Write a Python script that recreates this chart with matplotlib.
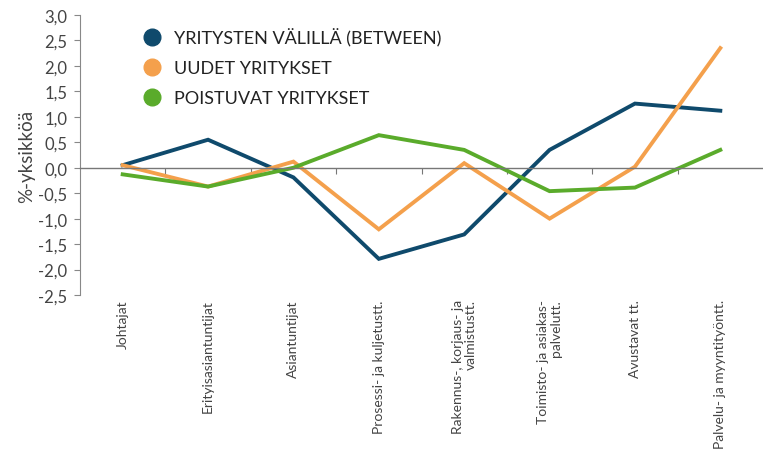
import matplotlib
matplotlib.use("Agg")
import matplotlib.pyplot as plt
import matplotlib.transforms as mtransforms
from matplotlib.lines import Line2D
import numpy as np

categories = ["Johtajat", "Erityisasiantuntijat", "Asiantuntijat",
              "Prosessi- ja kuljetustt.", "Rakennus-, korjaus- ja\nvalmistustt.",
              "Toimisto- ja asiakas-\npalvelutt.", "Avustavat tt.", "Palvelu- ja myyntityöntt."]
between = [0.05, 0.55, -0.19, -1.79, -1.31, 0.35, 1.26, 1.12]
uudet = [0.05, -0.37, 0.12, -1.21, 0.09, -1.00, 0.02, 2.35]
poistuvat = [-0.13, -0.37, 0.00, 0.64, 0.35, -0.46, -0.39, 0.35]
series_names = ["YRITYSTEN VÄLILLÄ (BETWEEN)", "UUDET YRITYKSET", "POISTUVAT YRITYKSET"]
colors = ["#0f4a6c", "#f4a04c", "#5aab2b"]
yticks = [3.0, 2.5, 2.0, 1.5, 1.0, 0.5, 0.0, -0.5, -1.0, -1.5, -2.0, -2.5]

plt.rcParams['font.family'] = ['Lato', 'DejaVu Sans']

fig = plt.figure(figsize=(7.63, 4.52), dpi=100)
ax = fig.add_axes([80/763, (452-296)/452, 683/763, 280/452])

x = np.arange(len(categories))
for vals, c in zip([between, uudet, poistuvat], colors):
    ax.plot(x, vals, color=c, lw=2.8, solid_joinstyle='miter')

ax.set_xlim(-0.5, len(categories) - 0.5)
ax.set_ylim(-2.5, 3.0)
ax.set_yticks(yticks)
ax.set_yticklabels([f"{v:.1f}".replace(".", ",") for v in yticks],
                   fontsize=12, color="#444444")
ax.tick_params(axis='y', direction='out', length=4, width=0.8, color="#888888", pad=5)

for s in ['top', 'right']:
    ax.spines[s].set_visible(False)
ax.spines['left'].set_color("#888888")
ax.spines['left'].set_linewidth(0.8)
ax.spines['bottom'].set_position(('data', 0))
ax.spines['bottom'].set_color("#777777")
ax.spines['bottom'].set_linewidth(1.0)
ax.set_xticks(np.arange(0.5, len(categories) - 0.5, 1.0))
ax.set_xticklabels([])
ax.tick_params(axis='x', direction='out', length=4, width=0.8, color="#777777")

trans = mtransforms.blended_transform_factory(ax.transData, ax.transAxes)
for i, lab in enumerate(categories):
    ax.text(i, -0.015, lab, rotation=90, ha='center', va='top', transform=trans,
            fontsize=10, color="#444444", multialignment='right', linespacing=1.1)

ax.set_ylabel("%-yksikköä", fontsize=13.5, color="#444444", labelpad=2)

handles = [Line2D([], [], marker='o', linestyle='none', markersize=12,
                  markerfacecolor=c, markeredgecolor=c) for c in colors]
leg = ax.legend(handles, series_names, loc='upper left', bbox_to_anchor=(0.068, 0.98),
                frameon=False, fontsize=13.0, labelspacing=0.78, handletextpad=0.25,
                borderaxespad=0)
for t in leg.get_texts():
    t.set_color("#222222")

fig.savefig("out.png", dpi=100)
